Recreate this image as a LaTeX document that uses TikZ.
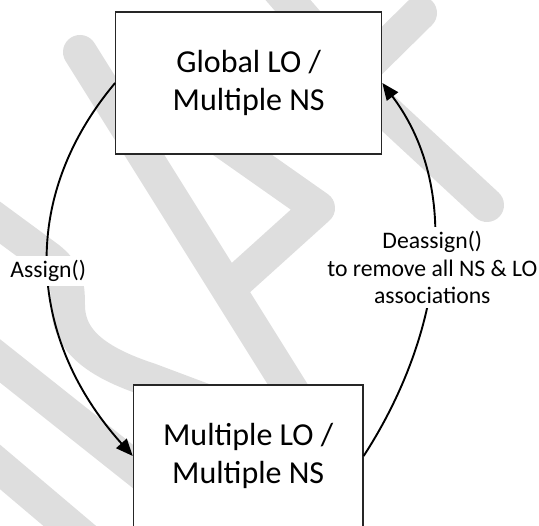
\documentclass[tikz,border=0pt]{standalone}
\usepackage{fontspec}
\setmainfont{Carlito}
\usetikzlibrary{arrows.meta}
\definecolor{wmgray}{HTML}{DEDEDE}
\begin{document}
\begin{tikzpicture}[x=1pt,y=1pt,>={Triangle[length=17pt,width=14pt]},
  statebox/.style={draw=black!85, line width=1.2pt, fill=white, minimum width=#1,
    minimum height=142pt, align=center, inner sep=0pt,
    font=\fontsize{32}{37.5}\selectfont},
  lbl/.style={fill=white, align=center, inner xsep=1pt, inner ysep=4pt,
    font=\fontsize{23.7}{27.5}\selectfont},
  wm/.style={wmgray, line width=34pt, line cap=round, line join=round}]
 \useasboundingbox (0,0) rectangle (539,526);
 \clip (0,0) rectangle (539,526);

 % watermark in the background
 \draw[wm] (80,474)--(330,74);
 \draw[wm] (200,401)--(318,318)--(236,244);
 \draw[wm] (420,513)--(352,446)--(487,321);
 \draw[wm] (262,556)--(340,466);
 \draw[wm] (-20,318)--(48,268) .. controls (66,254) and (68,241) .. (68,221)
   .. controls (68,186) and (95,164) .. (150,146)--(230,116);
 \draw[wm] (-20,181)--(150,46);
 \draw[wm] (-20,76)--(110,-34);

 \node[statebox=266pt] (glob) at (248.7,443) {Global LO /\\Multiple NS};
 \node[statebox=229.7pt] (mult) at (248.2,70) {Multiple LO /\\Multiple NS};

 \draw[->, line width=1.9pt] (glob.west) .. controls +(230:154) and +(132:154)
   .. node[lbl]{Assign()} (mult.west);
 \draw[->, line width=1.9pt] (mult.east) .. controls +(57:138) and +(-53:138)
   .. node[lbl]{Deassign()\\to remove all NS \& LO\\associations} (glob.east);

\end{tikzpicture}
\end{document}
